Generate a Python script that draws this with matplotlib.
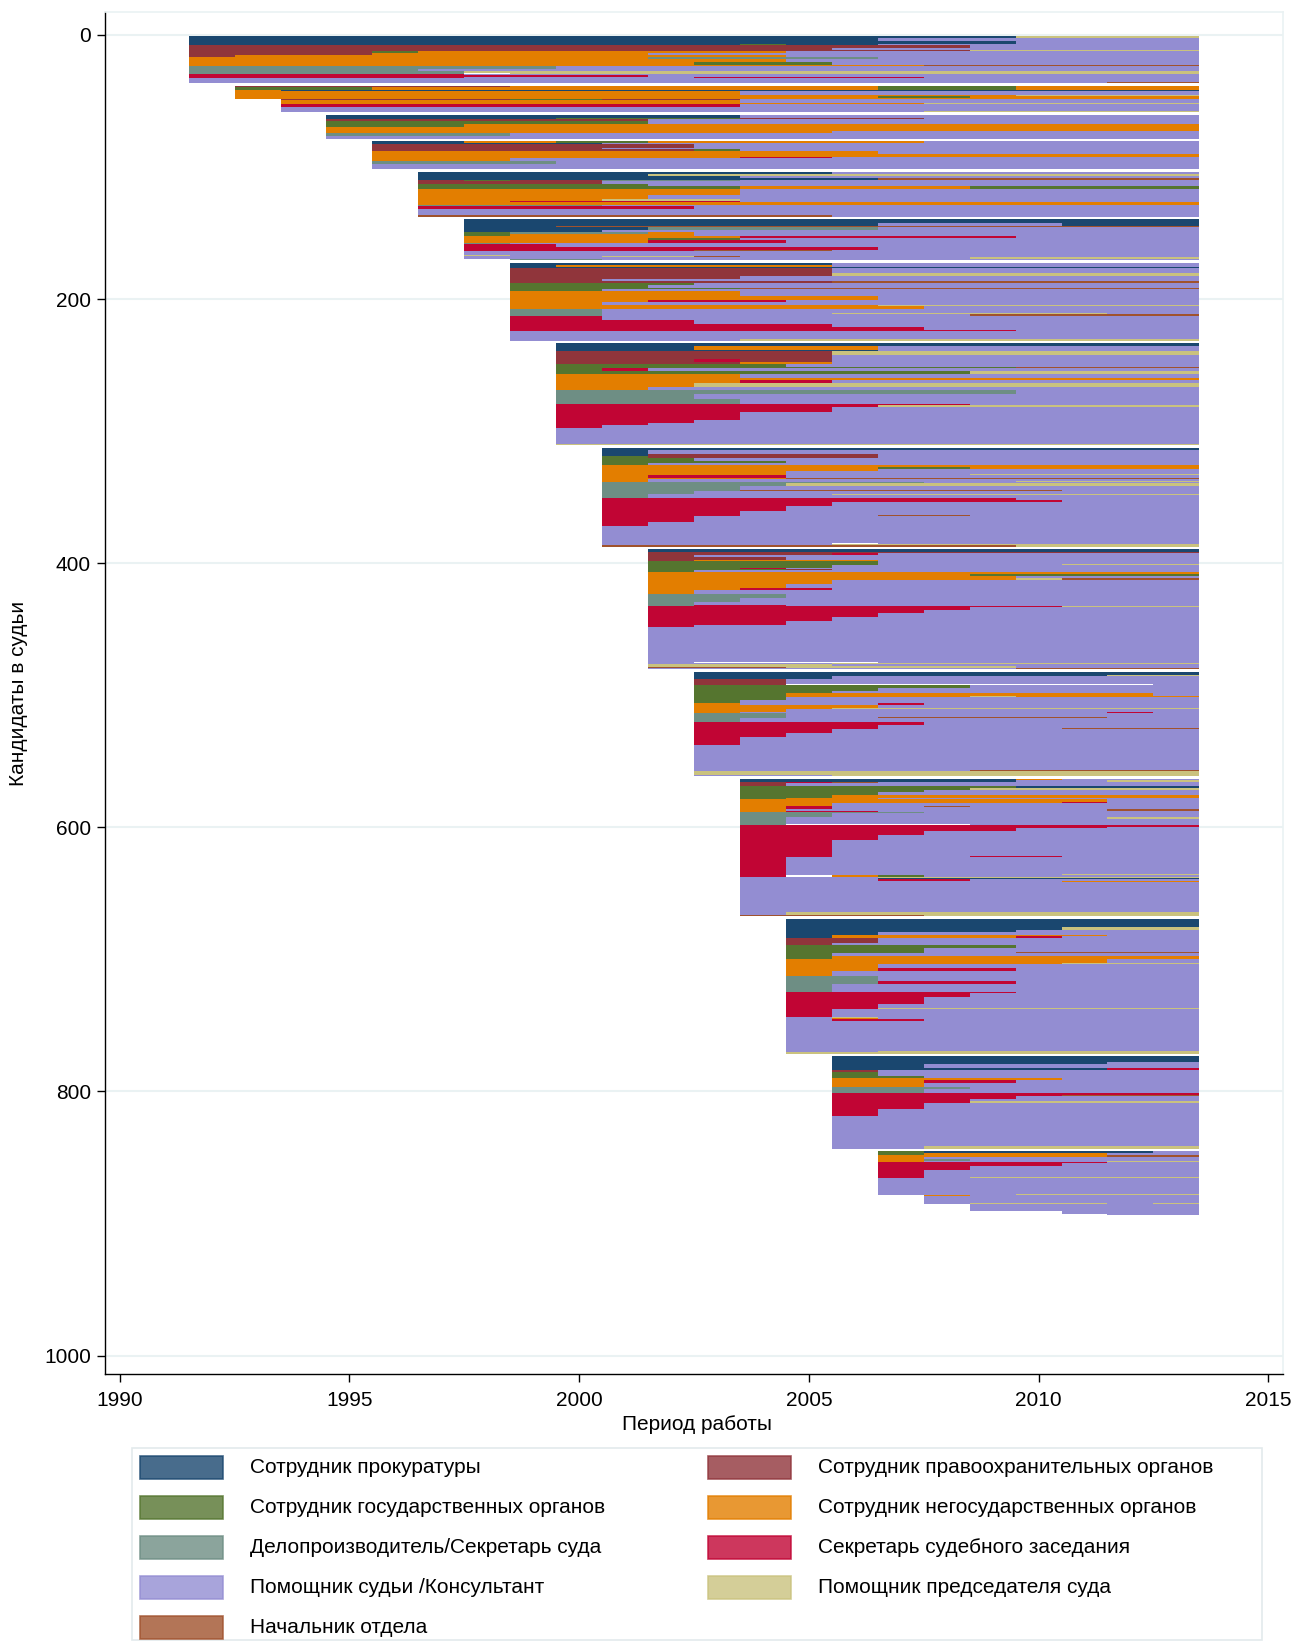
import numpy as np
import matplotlib.pyplot as plt
from matplotlib.colors import ListedColormap
from matplotlib.patches import Rectangle

plt.rcParams['font.family'] = ['Liberation Sans', 'DejaVu Sans']

# career states
state_codes = ['P', 'L', 'G', 'N', 'D', 'S', 'A', 'C', 'H']
state_labels = ['Сотрудник прокуратуры',
                'Сотрудник правоохранительных органов',
                'Сотрудник государственных органов',
                'Сотрудник негосударственных органов',
                'Делопроизводитель/Секретарь суда',
                'Секретарь судебного заседания',
                'Помощник судьи /Консультант',
                'Помощник председателя суда',
                'Начальник отдела']
state_colors = ['#1a476f', '#90353b', '#55752f', '#e37e00', '#6e8e84',
                '#c10534', '#938dd2', '#cac27e', '#a0522d']

first_years = [1992, 1993, 1994, 1995, 1996, 1997, 1998, 1999,
               2000, 2001, 2002, 2003, 2004, 2005, 2006, 2007]
last_year = 2013

# "count:runs"  -> run = state code + number of years, '_' = missing
c1992 = ["2:P18 C4", "2:P15 A7", "2:P18 A4", "1:P12 G1 P2 A7",
         "2:L17 A5", "2:L14 A8", "1:L17 C5", "1:L4 G1 N8 A9", "2:L4 N6 A12", "1:L1 N12 A9",
         "2:N10 D5 A7", "2:N13 A9", "2:N11 G3 A8", "1:N16 H6",
         "2:D8 A14", "2:D5 A17", "1:D6 C16", "1:D6 _1 C15",
         "1:S6 A16", "1:S10 A12", "1:S6 A5 S5 A6",
         "3:A22", "1:A20 H2"]
c1993 = ["1:L6 N8 G3 N4", "2:G3 N11 G3 N4", "1:N1 P20", "3:N11 A10",
         "1:N17 C4", "1:N14 G2 N5", "1:N21"]
c1994 = ["1:L5 G2 L3 A10", "2:N10 A10", "1:N14 C6", "2:S10 A10", "3:A20", "1:A14 C6"]
c1995 = ["2:P9 A10", "1:P5 G4 L4 A6", "2:L7 A12", "2:G7 A12", "2:G3 N16",
         "3:N19", "2:N11 A8", "2:D4 A15", "2:A19"]
c1996 = ["1:P2 N2 G2 N6 A6", "1:P5 A13", "3:L7 A11", "1:L5 A13", "1:L7 G1 A10",
         "3:N11 A7", "2:N18", "1:N8 S2 A8", "2:N3 A15", "2:D4 A14", "4:A18"]
c1997 = ["2:P9 A8", "1:P5 C12", "2:P7 A10", "1:P10 H7",
         "1:L1 G1 L2 D3 A10", "2:L4 A13", "2:G5 A12", "2:G7 N5 G5",
         "5:N7 A10", "3:N5 A12", "1:N4 C3 A10", "1:N2 S5 A10", "2:N17",
         "1:D4 A13", "2:S6 A11", "5:A17", "1:H9 A8"]
c1998 = ["3:P16", "2:P9 A4 P3", "1:P2 H14", "2:P4 D5 A7", "2:P3 A13",
         "1:G1 D3 N1 A11", "2:G1 N4 A11",
         "1:N6 S6 A4", "2:N4 G2 A10", "2:N4 S3 A9", "1:D1 A15",
         "2:S2 A14", "2:S9 A7", "1:S5 H3 A8",
         "3:A16", "1:C1 A15", "1:A3 C2 H1 A10", "1:A11 C5", "1:_1 D2 A13"]
c1999 = ["2:P7 A8", "1:P1 N6 A8", "1:P15",
         "4:L7 A8", "2:L7 C8", "2:L5 A10", "2:L2 A13", "1:L7 H8",
         "2:G4 A11", "2:G3 A12", "1:G5 H10", "1:G2 A13",
         "4:N5 A10", "3:N8 A7", "2:N3 S3 A9", "2:N2 A13", "1:N8 C7", "2:N9 A6",
         "3:D2 A13", "1:D2 A5 C6 A2", "1:D2 A8 H5",
         "3:S2 A13", "3:S4 A11", "3:S7 A8", "2:S9 A6", "1:S11 A4",
         "6:A15", "1:A5 C10"]
c2000 = ["2:P14", "3:P3 N4 A7", "1:P7 A7",
         "3:L6 C8", "3:L6 A8", "2:L3 S1 L2 A8", "2:L4 N2 A8",
         "2:G5 A9", "1:G10 H4", "2:G1 S1 A12", "2:G9 C5",
         "3:N4 A10", "2:N14", "2:N4 S2 A8", "3:N3 C11", "2:N2 A12",
         "3:D10 A4", "4:D3 A11", "4:D4 A10",
         "1:S9 A5", "1:S7 C7", "4:S6 A8", "6:S4 A10", "2:S3 A11", "2:S2 A12", "2:S1 A13",
         "12:A14", "1:C14"]
c2001 = ["2:P13", "3:P1 A12", "1:P1 L5 A7",
         "2:G1 L5 A7", "2:G2 A11", "2:G4 A9", "1:G1 A12",
         "2:N13", "1:N6 G2 N5", "2:N6 A7", "2:N4 A9", "1:N4 A4 C5", "2:N1 S3 A9",
         "1:N4 H9", "1:N1 A12", "1:N1 A8 C4",
         "1:D7 A6", "2:D4 C9", "3:D3 A10", "1:D3 H7 A3", "2:D2 A11", "1:D1 A4 C8", "2:D1 A12",
         "2:S9 A4", "1:S10 A3", "3:S5 A8", "4:S4 A9", "3:S3 A10", "1:S3 A3 H2 A5",
         "4:S2 A11", "3:S1 A12",
         "13:A13", "1:A5 _1 A7", "1:A5 C8", "1:H9 C4"]
c2002 = ["2:P12", "1:L12", "1:L4 S1 A7", "2:L1 A11", "2:L3 A9", "1:L1 N4 A7",
         "2:G5 A7", "1:G5 A4 C3", "2:G4 A8", "1:G2 S1 A9", "1:G3 L1 A8", "1:G1 A11",
         "2:N12", "1:N7 G5", "2:N8 A4", "1:N8 C1 H3", "3:N4 A8", "3:N3 A9",
         "2:N2 S2 A8", "3:N1 A11",
         "3:D3 A9", "3:D2 A10", "2:D1 A11", "1:D1 S2 A9",
         "1:S9 C3", "2:S7 A5", "2:S6 A6", "3:S5 A7", "3:S4 A8", "3:S3 A9", "2:S1 A11",
         "26:A12", "1:A1 _4 A7", "1:A4 C8", "1:C4 A8", "1:C8 A4", "1:H3 C5 A4", "1:A8 H4"]
c2003 = ["2:P11", "1:P9 C2", "2:P3 A8", "4:L2 A9", "1:L2 _8 A1",
         "2:G6 A5", "2:G4 A7", "2:G3 A8", "2:G2 N8 A1", "1:G2 N4 C1 N4", "2:G2 A9", "2:G1 A10",
         "2:N1 A3 S1 A6", "2:N4 A7", "1:N3 C8", "2:N2 A9", "1:N1 A8 S1 A1",
         "3:D2 A9", "1:D2 A2 H5 A2", "3:D1 A10",
         "2:S5 A6", "2:S4 A7", "1:S4 A4 H3", "3:S3 A8", "3:S2 A9", "6:S1 A10",
         "19:A11", "1:A6 H5", "3:C11", "1:A3 C8"]
c2004 = ["1:P6 N1 A3", "1:P6 A2 C2", "1:L1 S1 H1 A7", "2:L1 A9",
         "2:G6 P4", "1:G5 C5", "2:G4 A6", "2:G3 A7", "2:G2 N8", "1:G1 N2 A7",
         "2:N8 A2", "1:N7 S1 A2", "2:N2 A8", "1:N1 S1 A2 H1 A5", "2:N1 S1 A8",
         "1:N1 A7 H2", "1:N1 S2 A7",
         "1:D4 A6", "3:D2 A8", "1:D1 A7 C2", "4:D1 A9", "1:D1 _4 A5",
         "1:S10", "1:S8 A2", "2:S6 A4", "3:S4 A6", "4:S3 A7", "12:S2 A8", "1:S2 A3 S2 A3",
         "13:S1 A9", "1:S1 A6 C3", "1:S1 _1 N1 G1 A6",
         "1:A3 C7", "1:A3 P7", "1:A3 S2 A5", "1:A7 N3", "23:A10", "2:A1 C9", "1:H4 C6"]
c2005 = ["6:P9", "2:P6 C3", "2:P5 A4", "2:P2 A7", "1:P1 N6 A2", "1:P1 N4 S1 A3",
         "4:L2 A7", "2:L1 A8",
         "2:G5 A4", "3:G3 A6", "1:G3 A2 H4", "2:G1 A8", "2:G1 N8",
         "3:N7 A2", "1:N6 C3", "3:N2 A7", "2:N2 S3 A4", "4:N1 A8",
         "4:D2 A7", "2:D2 S3 A4", "6:D1 A8",
         "1:S5 A4", "3:S4 A5", "5:S3 A6", "3:S2 A7", "1:S2 C7", "6:S1 A8",
         "1:A1 C1 A7", "1:A1 N1 A7", "1:A1 S2 A6", "23:A9", "1:A2 C7", "1:C9"]
c2006 = ["4:P8", "2:P6 A2", "3:P2 A6", "1:P6 S2", "2:L1 A7", "3:G1 A7", "1:G2 A6",
         "2:N5 A3", "2:N2 S2 A4", "3:N2 A6", "2:D3 A5", "3:D2 A6",
         "1:S8", "1:S5 H3", "2:S4 A4", "2:S3 A5", "1:S3 C5", "5:S2 A6", "5:S1 A7",
         "23:A8", "2:A2 C6"]
c2007 = ["1:G1 P5 A1", "2:G1 N4 A2", "1:N5 H2", "2:N1 A6", "1:N1 D1 A5", "1:N1 A4 C2",
         "1:S5 A2", "2:S4 A3", "3:S2 A5", "5:S1 A6", "1:S1 A1 C5",
         "12:A7", "1:A3 C4",
         "1:_1 N1 A5", "5:_1 A6", "1:_1 A1 C3 A1 C1", "5:_2 A5", "2:_4 A3", "1:_5 A2"]
cohorts = [c1992, c1993, c1994, c1995, c1996, c1997, c1998, c1999,
           c2000, c2001, c2002, c2003, c2004, c2005, c2006, c2007]
# empty (missing) rows after each cohort block
blank_rows = [2, 0, 2, 2, 2, 2, 2, 2, 2, 2, 2, 2, 2, 2, 2, 0]

years = np.arange(first_years[0], last_year + 1)
ncol = len(years)


def parse_group(group, length):
    n, runs = group.split(':')
    seq = []
    for run in runs.split():
        code, k = run[0], int(run[1:])
        val = np.nan if code == '_' else state_codes.index(code)
        seq += [val] * k
    seq = (seq + [np.nan] * length)[:length]
    return int(n), seq


rows = []
for start, groups, nb in zip(first_years, cohorts, blank_rows):
    length = last_year - start + 1
    for g in groups:
        n, seq = parse_group(g, length)
        full = [np.nan] * (ncol - length) + seq
        rows += [full] * n
    rows += [[np.nan] * ncol] * nb

mat = np.ma.masked_invalid(np.array(rows, dtype=float))

W, H = 1306, 1642
fig = plt.figure(figsize=(W / 100, H / 100), dpi=100)
ax = fig.add_axes([105 / W, 1 - 1374 / H, 1178 / W, 1362 / H])

x_edges = np.append(years - 0.5, years[-1] + 0.5)
y_edges = np.arange(len(rows) + 1) + 0.5
ax.pcolormesh(x_edges, y_edges, mat, cmap=ListedColormap(state_colors),
              vmin=-0.5, vmax=len(state_codes) - 0.5, shading='flat',
              edgecolors='none', antialiased=False, zorder=2)

ax.set_xlim(1989.68, 2015.32)
ax.set_ylim(1014, -17.4)
ax.set_xticks(np.arange(1990, 2016, 5))
ax.set_yticks(np.arange(0, 1001, 200))
ax.yaxis.grid(True, color='#eaf2f3', linewidth=1.5, zorder=0)
ax.set_axisbelow(True)
ax.tick_params(axis='both', labelsize=15, length=6, width=1.0, color='#000000')
ax.tick_params(axis='x', pad=6)
ax.tick_params(axis='y', pad=4)
for side in ['top', 'right']:
    ax.spines[side].set_color('#eaf2f3')
    ax.spines[side].set_linewidth(1.2)
for side in ['left', 'bottom']:
    ax.spines[side].set_color('#000000')
    ax.spines[side].set_linewidth(1.0)

fig.text(697 / W, 1 - 1424 / H, 'Период работы', fontsize=15, ha='center', va='center')
fig.text(19 / W, 1 - 693 / H, 'Кандидаты в судьи', fontsize=15, ha='center', va='center',
         rotation=90)

# legend
fig.add_artist(Rectangle((132 / W, 1 - 1640 / H), 1130 / W, 192 / H,
                         transform=fig.transFigure, facecolor='white',
                         edgecolor='#e3eaec', linewidth=1.2))
legend_order = [[0, 2, 4, 6, 8], [1, 3, 5, 7]]
col_x = [140, 708]
text_x = [250, 818]
row_y = [1467, 1507, 1547, 1587, 1627]
for c, idxs in enumerate(legend_order):
    for r, i in enumerate(idxs):
        fig.add_artist(Rectangle((col_x[c] / W, 1 - (row_y[r] + 11.5) / H), 83 / W, 23 / H,
                                 transform=fig.transFigure, facecolor=state_colors[i],
                                 alpha=0.8, edgecolor=state_colors[i], linewidth=1.2))
        fig.text(text_x[c] / W, 1 - row_y[r] / H, state_labels[i], fontsize=15,
                 ha='left', va='center')

fig.savefig('out.png', dpi=100)
